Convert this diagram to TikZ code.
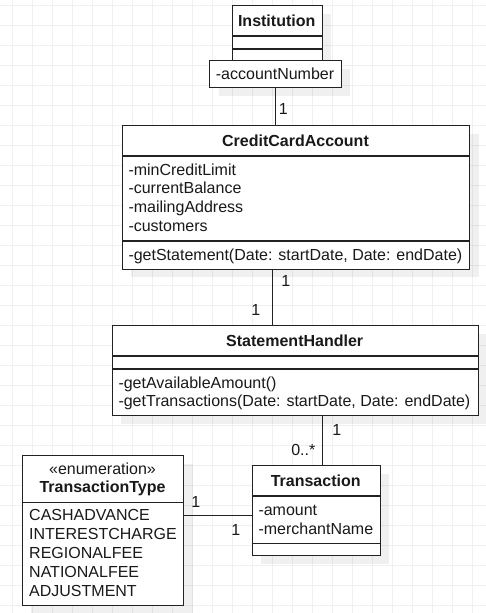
\documentclass[tikz,border=0pt]{standalone}
\usepackage{fontspec}
\setmainfont{Liberation Sans}
\usetikzlibrary{shadows}
\definecolor{gridc}{HTML}{F0F0F0}
\definecolor{linec}{HTML}{222222}
\tikzset{
  umlbox/.style={draw=linec, fill=white, line width=1.1pt, inner sep=0pt, anchor=north west,
    drop shadow={shadow xshift=9pt, shadow yshift=-8pt, fill=black, opacity=0.06}},
  sepline/.style={draw=linec, line width=1.1pt},
  conn/.style={draw=linec, line width=1.1pt},
  txt/.style={inner sep=0pt, font=\fontsize{16}{19}\selectfont, text=black!90},
  hdr/.style={txt, font=\fontsize{16}{19}\selectfont\bfseries},
  attr/.style={txt, anchor=base west},
  mult/.style={txt, anchor=base},
}
\begin{document}
\begin{tikzpicture}[x=1pt,y=-1pt]
\useasboundingbox (0,0) rectangle (486,613);
% grid
\foreach \gx in {12.7,32.7,...,486} \draw[gridc, line width=1pt] (\gx,0) -- (\gx,613);
\foreach \gy in {5,25,...,613} \draw[gridc, line width=1pt] (0,\gy) -- (486,\gy);

% boxes
\node[umlbox, minimum width=89.5pt, minimum height=55pt] (inst) at (232,5) {};
\node[umlbox, minimum width=131.7pt, minimum height=27.3pt] (acct) at (209,60) {};
\node[umlbox, minimum width=347.6pt, minimum height=143.7pt] (cca) at (121.7,125) {};
\node[umlbox, minimum width=366pt, minimum height=90pt] (sh) at (111.7,325) {};
\node[umlbox, minimum width=161.6pt, minimum height=150pt] (tt) at (21.7,455) {};
\node[umlbox, minimum width=128pt, minimum height=90pt] (tr) at (251.7,465) {};

% separators
\draw[sepline] (inst.west |- 0,36) -- (inst.east |- 0,36);
\draw[sepline] (inst.west |- 0,49) -- (inst.east |- 0,49);
\draw[sepline] (cca.west |- 0,156) -- (cca.east |- 0,156);
\draw[sepline] (cca.west |- 0,241) -- (cca.east |- 0,241);
\draw[sepline] (sh.west |- 0,356) -- (sh.east |- 0,356);
\draw[sepline] (sh.west |- 0,369) -- (sh.east |- 0,369);
\draw[sepline] (tr.west |- 0,496) -- (tr.east |- 0,496);
\draw[sepline] (tr.west |- 0,543.7) -- (tr.east |- 0,543.7);
\draw[sepline] (tt.west |- 0,502.7) -- (tt.east |- 0,502.7);

% connectors
\draw[conn] (acct.south) -- (acct.south |- cca.north);
\draw[conn] ([xshift=-23.2pt]cca.south) -- ([xshift=-23.2pt]cca.south |- sh.north);
\draw[conn] ([xshift=27.3pt]sh.south) -- ([xshift=27.3pt]sh.south |- tr.north);
\draw[conn] ([yshift=15pt]tt.east) -- ([yshift=15pt]tt.east -| tr.west);

% texts
\node[hdr, anchor=base] (instT) at (276.7,26) {Institution};
\node[attr] (acctT) at (215.7,79.4) {-accountNumber};

\node[hdr, anchor=base] (ccaT) at (295.5,146.4) {CreditCardAccount};
\node[attr] (ccaA1) at (128.3,175) {-minCreditLimit};
\node[attr] (ccaA2) at (128.3,193.7) {-currentBalance};
\node[attr] (ccaA3) at (128.3,212.4) {-mailingAddress};
\node[attr] (ccaA4) at (128.3,231.1) {-customers};
\node[attr] (ccaM1) at (128.3,260.7) {-getStatement(Date: startDate, Date: endDate)};

\node[hdr, anchor=base] (shT) at (294.7,346.2) {StatementHandler};
\node[attr] (shM1) at (118.3,388.4) {-getAvailableAmount()};
\node[attr] (shM2) at (118.3,406.6) {-getTransactions(Date: startDate, Date: endDate)};

\node[hdr, anchor=base] (trT) at (315.7,486.2) {Transaction};
\node[attr] (trA1) at (258.3,515) {-amount};
\node[attr] (trA2) at (258.3,534) {-merchantName};

\node[txt, anchor=base] (ttS) at (102.5,474) {«enumeration»};
\node[hdr, anchor=base] (ttT) at (102.5,492.4) {TransactionType};
\node[attr] (ttV1) at (29,520.7) {CASHADVANCE};
\node[attr] (ttV2) at (29,539.7) {INTERESTCHARGE};
\node[attr] (ttV3) at (29,558.7) {REGIONALFEE};
\node[attr] (ttV4) at (29,577.7) {NATIONALFEE};
\node[attr] (ttV5) at (29,596.7) {ADJUSTMENT};

% multiplicities
\node[mult] (m1) at (283.3,114) {1};
\node[mult] (m2) at (285.7,286.7) {1};
\node[mult] (m3) at (255.7,315.7) {1};
\node[mult] (m4) at (336.7,435.7) {1};
\node[mult] (m5) at (303.3,455.7) {0..*};
\node[mult] (m6) at (195.7,507.4) {1};
\node[mult] (m7) at (235.7,535) {1};
\end{tikzpicture}
\end{document}
